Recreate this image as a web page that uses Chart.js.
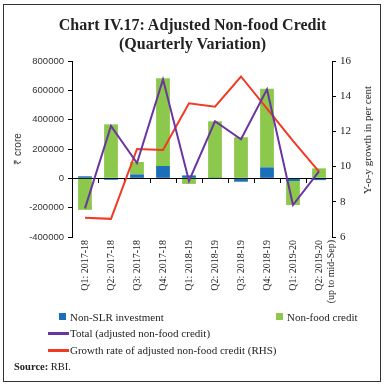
<!DOCTYPE html>
<html>
<head>
<meta charset="utf-8">
<script src="https://cdn.jsdelivr.net/npm/chart.js@4.4.0/dist/chart.umd.min.js"></script>
<style>
  html, body { margin:0; padding:0; background:#fff; }
  #wrap { position:relative; width:385px; height:386px; overflow:hidden; font-family:"Liberation Serif", serif; color:#222; }
  #frame { position:absolute; left:3px; top:4px; width:376px; height:376px; border:1px solid #333; pointer-events:none; }
  canvas { position:absolute; left:0; top:0; }
  #title { position:absolute; left:0; width:385px; top:15px; text-align:center; font-weight:bold; font-size:16px; line-height:19px; color:#222; }
  .lg { position:absolute; font-size:11px; line-height:12px; white-space:nowrap; }
  .sq { position:absolute; width:7px; height:7px; }
  .ln { position:absolute; height:3px; }
  #src { position:absolute; left:14px; top:361px; font-size:10.5px; }
  #rtitle { position:absolute; left:367px; top:140px; font-size:11px; white-space:nowrap; transform:translate(-50%,-50%) rotate(-90deg); }
</style>
</head>
<body>
<div id="wrap">
  <canvas id="c" width="385" height="386"></canvas>
  <div id="title">Chart IV.17: Adjusted Non-food Credit<br>(Quarterly Variation)</div>
  <div id="rtitle">Y-o-y growth in per cent</div>
  <div class="sq" style="left:59px;top:313px;background:#1b6fb8"></div>
  <div class="lg" style="left:70px;top:311px">Non-SLR investment</div>
  <div class="sq" style="left:276px;top:313px;background:#8cc84b"></div>
  <div class="lg" style="left:287px;top:311px">Non-food credit</div>
  <div class="ln" style="left:48px;top:332px;width:21px;background:#6a35a0"></div>
  <div class="lg" style="left:70px;top:327px">Total (adjusted non-food credit)</div>
  <div class="ln" style="left:48px;top:349px;width:21px;background:#f23a22"></div>
  <div class="lg" style="left:70px;top:344px">Growth rate of adjusted non-food credit (RHS)</div>
  <div id="src"><b>Source:</b> RBI.</div>
  <div id="frame"></div>
</div>
<script>
const categories = [
  "Q1: 2017-18", "Q2: 2017-18", "Q3: 2017-18", "Q4: 2017-18",
  "Q1: 2018-19", "Q2: 2018-19", "Q3: 2018-19", "Q4: 2018-19",
  "Q1: 2019-20", ["Q2: 2019-20", "(up to mid-Sep)"]
];
const nonSLRInvestment = [14000, -10000, 27000, 84000, 20000, 1500, -23000, 75000, -18000, -12000];
const nonFoodCredit = [-215000, 368000, 84000, 598000, -38000, 387000, 280000, 535000, -164000, 68000];
const totalAdjusted = [-205000, 357000, 104000, 675000, -18000, 389000, 266000, 607000, -182000, 48000];
const growthRate = [7.1, 7.03, 11.0, 10.94, 13.6, 13.4, 15.12, 13.3, 11.46, 9.71];
const leftTicks = { min: -400000, max: 800000, step: 200000 };
const rightTicks = { min: 6, max: 16, step: 2 };

const serif = "'Liberation Serif', serif";
const sans = "'Liberation Sans', sans-serif";

new Chart(document.getElementById('c'), {
  data: {
    labels: categories,
    datasets: [
      { type: 'bar', label: 'Non-SLR investment', data: nonSLRInvestment, backgroundColor: '#1b6fb8', stack: 's', order: 2, xAxisID: 'x', yAxisID: 'y', categoryPercentage: 1, barPercentage: 0.53 },
      { type: 'bar', label: 'Non-food credit', data: nonFoodCredit, backgroundColor: '#8cc84b', stack: 's', order: 2, xAxisID: 'x', yAxisID: 'y', categoryPercentage: 1, barPercentage: 0.53 },
      { type: 'line', label: 'Growth rate of adjusted non-food credit (RHS)', data: growthRate, borderColor: '#f23a22', borderWidth: 2, pointRadius: 0, tension: 0, order: 1, xAxisID: 'x', yAxisID: 'y1' },
      { type: 'line', label: 'Total (adjusted non-food credit)', data: totalAdjusted, borderColor: '#6a35a0', borderWidth: 2, pointRadius: 0, tension: 0, order: 0, xAxisID: 'x', yAxisID: 'y' }
    ]
  },
  options: {
    responsive: false,
    animation: false,
    events: [],
    layout: { padding: { top: 61, left: 0, right: 0, bottom: 0 } },
    plugins: { legend: { display: false }, tooltip: { enabled: false }, title: { display: false } },
    scales: {
      x: {
        type: 'category', position: 'bottom', offset: true,
        grid: { display: false, drawTicks: false },
        border: { display: false },
        ticks: { minRotation: 90, maxRotation: 90, autoSkip: false, padding: 3, color: '#222', font: { family: serif, size: 10 } },
        afterFit: (s) => { s.height = 149; }
      },
      x2: {
        type: 'category', axis: 'x', position: { y: 0 }, offset: true,
        grid: { offset: true, drawOnChartArea: false, drawTicks: true, tickLength: 4, color: '#000', lineWidth: 1 },
        border: { display: true, color: '#000', width: 1 },
        ticks: { display: false }
      },
      y: {
        position: 'left', min: leftTicks.min, max: leftTicks.max,
        grid: { drawOnChartArea: false, drawTicks: true, tickLength: 4, color: '#000' },
        border: { display: true, color: '#000', width: 1 },
        ticks: { stepSize: leftTicks.step, padding: 4, color: '#333', font: { family: sans, size: 9.5 }, callback: (v) => String(v) },
        title: { display: true, text: '₹ crore', color: '#333', font: { family: sans, size: 10 }, padding: { top: 12, bottom: 0 } },
        afterFit: (s) => { s.width = 72; }
      },
      y1: {
        position: 'right', min: rightTicks.min, max: rightTicks.max,
        grid: { drawOnChartArea: false, drawTicks: true, tickLength: 4, color: '#000' },
        border: { display: true, color: '#000', width: 1 },
        ticks: { stepSize: rightTicks.step, padding: 4, color: '#222', font: { family: serif, size: 11 } },
        title: { display: false },
        afterFit: (s) => { s.width = 53; }
      }
    }
  }
});
</script>
</body>
</html>
